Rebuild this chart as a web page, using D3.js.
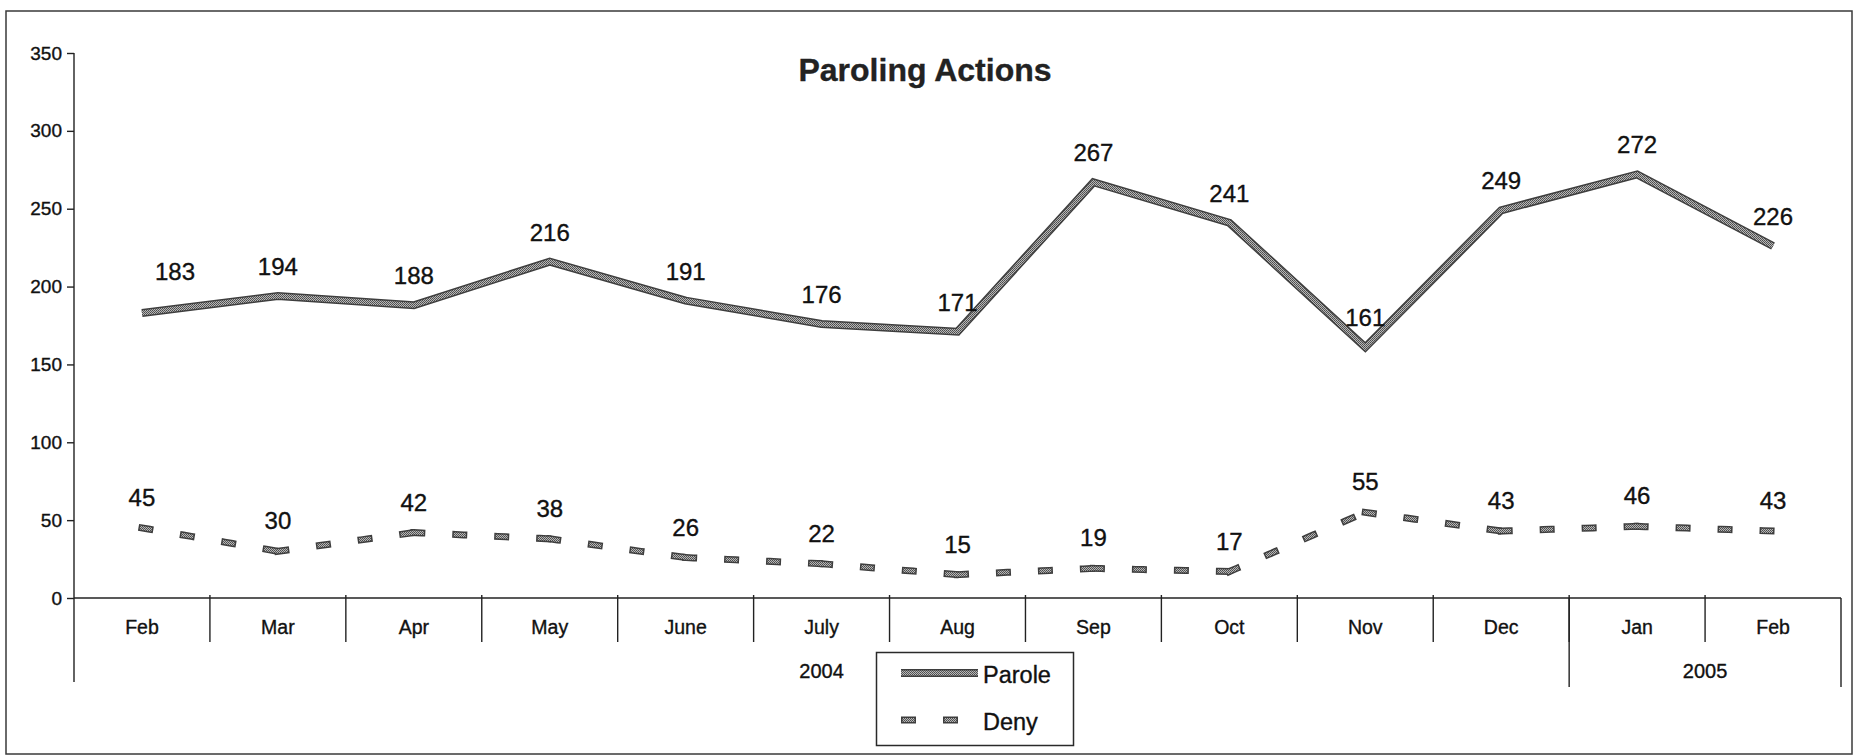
<!DOCTYPE html>
<html>
<head>
<meta charset="utf-8">
<script src="https://cdn.jsdelivr.net/npm/d3@7"></script>
<style>
  html, body { margin: 0; padding: 0; background: #fff; }
  svg { display: block; }
  text { font-family: "Liberation Sans", Arial, sans-serif; fill: #111; stroke: #111; stroke-width: 0.35px; }
</style>
</head>
<body>
<svg id="chart" width="1864" height="756"></svg>
<script>
// ---- data ----
const title = "Paroling Actions";
const months = ["Feb", "Mar", "Apr", "May", "June", "July", "Aug", "Sep", "Oct", "Nov", "Dec", "Jan", "Feb"];
const years = ["2004", "2005"];
const yearMonthCounts = [11, 2];
const parole = [183, 194, 188, 216, 191, 176, 171, 267, 241, 161, 249, 272, 226];
const deny = [45, 30, 42, 38, 26, 22, 15, 19, 17, 55, 43, 46, 43];
const yTicks = [0, 50, 100, 150, 200, 250, 300, 350];
const seriesNames = ["Parole", "Deny"];

// ---- layout ----
const svg = d3.select("#chart");
const plotLeft = 74, plotRight = 1841, plotBottom = 598, plotTop = 53;

const idx = months.map((m, i) => i);
const x = d3.scaleBand().domain(idx).range([plotLeft, plotRight]);
const cx = i => x(i) + x.bandwidth() / 2;
const y = d3.scaleLinear().domain([0, 350]).range([plotBottom, plotTop]);

// texture pattern (scanned halftone look)
const defs = svg.append("defs");
const pat = defs.append("pattern").attr("id", "tex")
  .attr("patternUnits", "userSpaceOnUse").attr("width", 2).attr("height", 2);
pat.append("rect").attr("width", 2).attr("height", 2).attr("fill", "#b8b8b8");
pat.append("rect").attr("width", 1).attr("height", 1).attr("fill", "#4a4a4a");
pat.append("rect").attr("x", 1).attr("y", 1).attr("width", 1).attr("height", 1).attr("fill", "#5a5a5a");

const lineDark = "#3e3e3e";

// outer border
svg.append("rect").attr("x", 6).attr("y", 11).attr("width", 1846).attr("height", 743)
  .attr("fill", "none").attr("stroke", "#3a3a3a").attr("stroke-width", 1.5);

// title
svg.append("text").attr("x", 925).attr("y", 81).attr("text-anchor", "middle")
  .attr("font-size", 32).attr("font-weight", "bold")
  .style("fill", "#222").style("stroke", "#222").text(title);

// y axis
const yAxis = d3.axisLeft(y).tickValues(yTicks).tickSize(7).tickSizeOuter(0).tickPadding(5);
const gy = svg.append("g").attr("transform", `translate(${plotLeft},0)`).call(yAxis);
gy.select(".domain").remove();
gy.selectAll(".tick line").attr("stroke", "#222").attr("stroke-width", 1.4);
gy.selectAll(".tick text").attr("font-size", 19)
  .attr("font-family", "Liberation Sans, Arial, sans-serif");
svg.append("line").attr("x1", plotLeft).attr("x2", plotLeft).attr("y1", plotTop).attr("y2", 682)
  .attr("stroke", "#222").attr("stroke-width", 1.4);

// x axis baseline
svg.append("line").attr("x1", plotLeft).attr("x2", plotRight).attr("y1", plotBottom).attr("y2", plotBottom)
  .attr("stroke", "#222").attr("stroke-width", 1.6);

// month dividers
svg.append("g").selectAll("line").data(idx.slice(1)).join("line")
  .attr("x1", i => x(i)).attr("x2", i => x(i))
  .attr("y1", plotBottom - 3).attr("y2", 642)
  .attr("stroke", "#222").attr("stroke-width", 1.4);

// year groups
let acc = 0;
const yearGroups = years.map((yr, k) => {
  const start = acc; acc += yearMonthCounts[k];
  return { label: yr, start, end: acc };
});
const bandEdge = i => (i >= months.length ? plotRight : x(i));
svg.append("g").selectAll("line").data(yearGroups.map(g => g.end)).join("line")
  .attr("x1", e => bandEdge(e)).attr("x2", e => bandEdge(e))
  .attr("y1", plotBottom).attr("y2", 687)
  .attr("stroke", "#222").attr("stroke-width", 1.4);

// month labels
svg.append("g").selectAll("text").data(idx).join("text")
  .attr("x", i => cx(i)).attr("y", 634).attr("text-anchor", "middle")
  .attr("font-size", 19.5).text(i => months[i]);

// year labels
svg.append("g").selectAll("text").data(yearGroups).join("text")
  .attr("x", g => (x(g.start) + bandEdge(g.end)) / 2).attr("y", 678).attr("text-anchor", "middle")
  .attr("font-size", 20).text(g => g.label);

// Parole line
const line = d3.line().x((d, i) => cx(i)).y(d => y(d));
svg.append("path").datum(parole).attr("d", line)
  .attr("fill", "none").attr("stroke", lineDark).attr("stroke-width", 8)
  .attr("stroke-linejoin", "miter");
svg.append("path").datum(parole).attr("d", line)
  .attr("fill", "none").attr("stroke", "url(#tex)").attr("stroke-width", 5)
  .attr("stroke-linejoin", "miter");

// Deny dashed line (dash pattern restarts at each point)
const segs = deny.slice(1).map((v, k) => [[cx(k), y(deny[k])], [cx(k + 1), y(v)]]);
const segG = svg.append("g");
segG.selectAll("path.o").data(segs).join("path").attr("class", "o")
  .attr("d", d => d3.line()(d))
  .attr("fill", "none").attr("stroke", lineDark).attr("stroke-width", 7)
  .attr("stroke-dasharray", "8,34").attr("stroke-linecap", "square");
segG.selectAll("path.i").data(segs).join("path").attr("class", "i")
  .attr("d", d => d3.line()(d))
  .attr("fill", "none").attr("stroke", "url(#tex)").attr("stroke-width", 4)
  .attr("stroke-dasharray", "8,34").attr("stroke-linecap", "square");

// data labels
const labelFont = 24;
svg.append("g").selectAll("text").data(parole).join("text")
  .attr("x", (d, i) => cx(i) + (i === 0 ? 33 : 0))
  .attr("y", (d, i) => y(d) - 21 - (i === 0 ? 12 : 0))
  .attr("text-anchor", "middle").attr("font-size", labelFont).text(d => d);
svg.append("g").selectAll("text").data(deny).join("text")
  .attr("x", (d, i) => cx(i))
  .attr("y", d => y(d) - 22)
  .attr("text-anchor", "middle").attr("font-size", labelFont).text(d => d);

// legend
const lg = svg.append("g");
lg.append("rect").attr("x", 876.5).attr("y", 652.5).attr("width", 197).attr("height", 93)
  .attr("fill", "#fff").attr("stroke", "#2a2a2a").attr("stroke-width", 1.5);
lg.append("line").attr("x1", 901).attr("x2", 978).attr("y1", 673).attr("y2", 673)
  .attr("stroke", lineDark).attr("stroke-width", 8);
lg.append("line").attr("x1", 901).attr("x2", 978).attr("y1", 673).attr("y2", 673)
  .attr("stroke", "url(#tex)").attr("stroke-width", 5);
lg.append("line").attr("x1", 904.5).attr("x2", 975).attr("y1", 720).attr("y2", 720)
  .attr("stroke", lineDark).attr("stroke-width", 7)
  .attr("stroke-dasharray", "8,34").attr("stroke-linecap", "square");
lg.append("line").attr("x1", 904.5).attr("x2", 975).attr("y1", 720).attr("y2", 720)
  .attr("stroke", "url(#tex)").attr("stroke-width", 4)
  .attr("stroke-dasharray", "8,34").attr("stroke-linecap", "square");
lg.selectAll("text").data(seriesNames).join("text")
  .attr("x", 983).attr("y", (d, i) => i === 0 ? 683 : 730)
  .attr("font-size", 23.5).text(d => d);
</script>
</body>
</html>
